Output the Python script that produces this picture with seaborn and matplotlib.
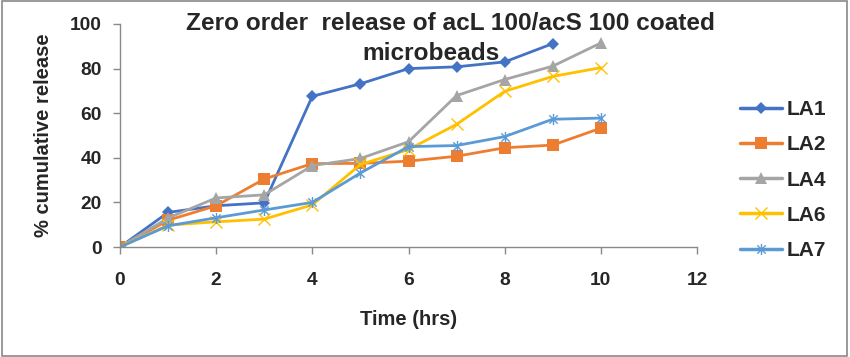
import numpy as np
import pandas as pd
import matplotlib
matplotlib.use("Agg")
import matplotlib.pyplot as plt
from matplotlib.path import Path
from matplotlib.lines import Line2D
from matplotlib.patches import Rectangle
import seaborn as sns

time_hrs = [0, 1, 2, 3, 4, 5, 6, 7, 8, 9, 10]
la1 = [0, 15.5, 18.5, 19.8, 67.6, 73.2, 80.0, 80.8, 83.0, 91.2]
la2 = [0, 12.0, 18.5, 30.5, 37.4, 37.5, 38.5, 40.7, 44.5, 45.7, 53.3]
la4 = [0, 13.0, 22.0, 23.4, 36.5, 39.7, 47.2, 67.9, 75.1, 81.1, 91.5]
la6 = [0, 9.8, 11.3, 12.5, 18.9, 37.0, 43.7, 55.0, 69.8, 76.5, 80.4]
la7 = [0, 9.5, 13.1, 16.6, 20.0, 33.2, 45.0, 45.5, 49.5, 57.3, 57.8]
series_names = ["LA1", "LA2", "LA4", "LA6", "LA7"]
x_ticks = [0, 2, 4, 6, 8, 10, 12]
y_ticks = [0, 20, 40, 60, 80, 100]

rows = []
for name, vals in zip(series_names, [la1, la2, la4, la6, la7]):
    for t, v in zip(time_hrs, vals):
        rows.append({"series": name, "time": t, "release": v})
df = pd.DataFrame(rows)

sns.set_theme(style="white")
plt.rcParams['font.family'] = ['Liberation Sans', 'DejaVu Sans']

star = Path([(0, -1), (0, 1), (-0.75, -0.75), (0.75, 0.75), (-0.75, 0.75), (0.75, -0.75)],
            [Path.MOVETO, Path.LINETO, Path.MOVETO, Path.LINETO, Path.MOVETO, Path.LINETO])

styles = {
    "LA1": dict(color="#4472C4", marker="D", ms=6.5, mew=0, mfc="#4472C4"),
    "LA2": dict(color="#ED7D31", marker="s", ms=8, mew=0, mfc="#ED7D31"),
    "LA4": dict(color="#A5A5A5", marker="^", ms=8.5, mew=0, mfc="#A5A5A5"),
    "LA6": dict(color="#FFC000", marker="x", ms=8, mew=1.0, mfc="#FFC000"),
    "LA7": dict(color="#5B9BD5", marker=star, ms=8, mew=1.0, mfc="#5B9BD5"),
}

fig = plt.figure(figsize=(8.5, 3.57), dpi=100)
ax = fig.add_axes([120/850, 1-247/357, (697-120)/850, (247-24)/357])

handles = []
for name in series_names:
    st = styles[name]
    sub = df[df.series == name]
    sns.lineplot(data=sub, x="time", y="release", ax=ax, color=st["color"], lw=2.0,
                 marker=st["marker"], markersize=st["ms"], markeredgewidth=st["mew"],
                 markerfacecolor=st["mfc"], markeredgecolor=st["color"], legend=False)
    handles.append(Line2D([], [], color=st["color"], lw=2.5, marker=st["marker"],
                          markersize=st["ms"], markeredgewidth=st["mew"],
                          markerfacecolor=st["mfc"], markeredgecolor=st["color"]))

ax.set_xlim(0, 12)
ax.set_ylim(0, 100)
ax.set_xticks(x_ticks)
ax.set_yticks(y_ticks)
ax.set_xticklabels([str(v) for v in x_ticks], fontsize=13.8, fontweight="bold")
ax.set_yticklabels([str(v) for v in y_ticks], fontsize=13.8, fontweight="bold")
ax.tick_params(axis="x", direction="out", length=5, width=1, color="#898989", pad=13, bottom=True)
ax.tick_params(axis="y", direction="out", length=5, width=1, color="#898989", pad=8, left=True)
for s in ["top", "right"]:
    ax.spines[s].set_visible(False)
for s in ["left", "bottom"]:
    ax.spines[s].set_color("#898989")
    ax.spines[s].set_linewidth(1)
ax.set_xlabel("Time (hrs)", fontsize=14.5, fontweight="bold", labelpad=15)
ax.set_ylabel("% cumulative release", fontsize=14.5, fontweight="bold", labelpad=12)
ax.grid(False)

fig.text(450/850, 1-24/357, "Zero order  release of acL 100/acS 100 coated",
         ha="center", va="center", fontsize=17.6, fontweight="bold")
fig.text(431/850, 1-54/357, "microbeads", ha="center", va="center",
         fontsize=17.6, fontweight="bold")

leg = fig.legend(handles, series_names, loc="upper left",
                 bbox_to_anchor=(740/850, 1-100/357), frameon=False,
                 prop={"size": 15, "weight": "bold"}, handlelength=2.0,
                 handletextpad=0.25, labelspacing=0.78, borderaxespad=0,
                 borderpad=0)

fig.patches.append(Rectangle((0.002, 0.003), 0.995, 0.993, transform=fig.transFigure,
                             fill=False, edgecolor="#898989", lw=1.2))

fig.savefig("out.png", dpi=100)
